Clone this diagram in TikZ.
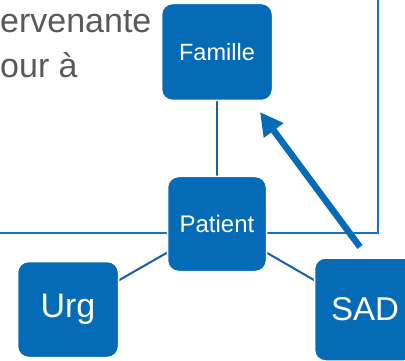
\documentclass[tikz,border=0pt]{standalone}
\usepackage{fontspec}
\setmainfont{Liberation Sans}
\usetikzlibrary{arrows.meta,backgrounds}
\definecolor{boxblue}{HTML}{066BB7}
\definecolor{linkblue}{HTML}{1760A3}
\definecolor{frameblue}{HTML}{1670C4}
\definecolor{textgray}{HTML}{595959}
\tikzset{
  actor/.style={rectangle, rounded corners=11pt, fill=boxblue, draw=white,
    line width=1.5pt, text=white, inner sep=0pt, align=center},
  link/.style={draw=linkblue, line width=2pt},
  frame/.style={draw=frameblue, line width=2pt},
  flow/.style={draw=boxblue, line width=6.5pt, line cap=butt,
    -{Triangle[length=23pt,width=23pt]}},
  caption/.style={text=textgray, inner sep=0pt, anchor=base west,
    font=\fontsize{34}{40}\selectfont}
}
\begin{document}
\begin{tikzpicture}[x=1pt,y=-1pt]
  \useasboundingbox (0,0) rectangle (405,361);
  \clip (0,0) rectangle (405,361);

  % partial caption text at the top left
  \node[caption] (cap1) at (0,33) {ervenante};
  \node[caption] (cap2) at (0,78) {our à};

  % actors
  \node[actor, minimum width=111pt, minimum height=97pt,
        font=\fontsize{23.5}{28}\selectfont] (famille) at (217,52) {Famille};
  \node[actor, minimum width=99pt, minimum height=95pt,
        font=\fontsize{24}{28}\selectfont] (patient) at (217,224) {Patient};
  \node[actor, minimum width=101pt, minimum height=96pt,
        font=\fontsize{34}{40}\selectfont] (urg) at (68,309.5) {Urg};
  \node[actor, minimum width=101pt, minimum height=103pt,
        font=\fontsize{33}{40}\selectfont] (sad) at (365,309.5) {SAD};

  % frame and links behind the boxes
  \begin{scope}[on background layer]
    \coordinate (frameleft) at (-10,233);
    \coordinate (framecorner) at (378,233);
    \coordinate (frametop) at (378,-10);
    \draw[frame] (frameleft) -- (framecorner) -- (frametop);
    \draw[link] (famille.center) -- (patient.center);
    \draw[link] (patient.center) -- (urg.center);
    \draw[link] (patient.center) -- (sad.center);
  \end{scope}

  % arrow from SAD towards Famille
  \coordinate (flowstart) at (360,247);
  \coordinate (flowend) at (260,112);
  \draw[flow] (flowstart) -- (flowend);
\end{tikzpicture}
\end{document}
